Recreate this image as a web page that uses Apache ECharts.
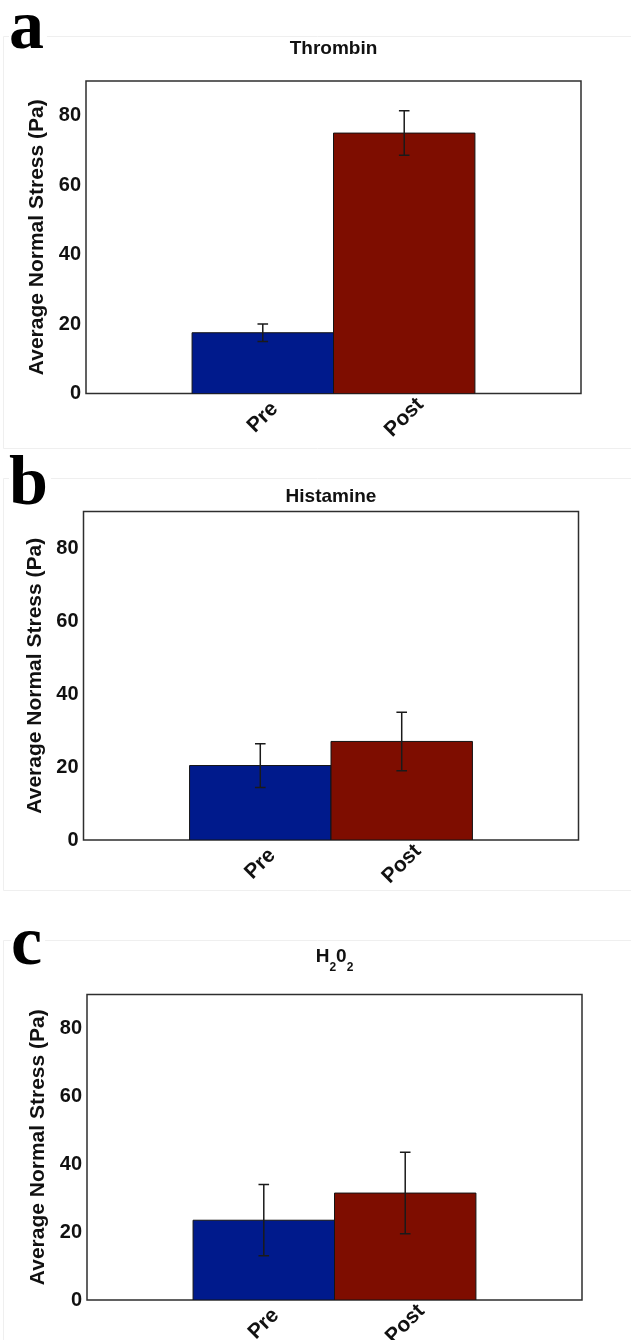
<!DOCTYPE html>
<html><head><meta charset="utf-8">
<script src="https://cdn.jsdelivr.net/npm/echarts@6/dist/echarts.min.js"></script>
<style>html,body{margin:0;padding:0;background:#fff}#chart{width:631px;height:1340px}</style>
</head><body><div id="chart"></div>
<script>
// ---- data ----
const categories = ['Pre', 'Post'];
const yTicks = [0, 20, 40, 60, 80];
const panelLetters = ['a', 'b', 'c'];
const panelTitles = ['Thrombin', 'Histamine', '{n|H}{s|2}{n|0}{s|2}'];
const thrombinMean = [17.5, 75.0];
const thrombinErr = [2.5, 6.4];
const histamineMean = [20.4, 27.0];
const histamineErr = [6.0, 8.0];
const h2o2Mean = [23.5, 31.5];
const h2o2Err = [10.5, 12.0];
const barColors = ['#001a8c', '#7e0d00'];
const yName = 'Average Normal Stress (Pa)';

// ---- layout ----
const grids = [
  {left: 86, top: 81, width: 495, height: 312.5},
  {left: 83.5, top: 511.5, width: 495, height: 328.5},
  {left: 87, top: 994.5, width: 495, height: 305.5}
];
const titleTops = [39, 487, 946];
const letterPos = [[9, 30], [9, 486], [11, 946]];
const frames = [[3, 36, 628, 412], [3, 478, 628, 412], [3, 940, 628, 420]];
const means = [thrombinMean, histamineMean, h2o2Mean];
const errs = [thrombinErr, histamineErr, h2o2Err];

const chart = echarts.init(document.getElementById('chart'), null, {renderer: 'canvas'});

function renderBar(params, api) {
  const x = api.value(0), y = api.value(1), e = api.value(2);
  const p0 = api.coord([x - 0.5, 0]);
  const p1 = api.coord([x + 0.5, y]);
  const top = api.coord([x, y + e]);
  const bot = api.coord([x, y - e]);
  const cap = 5.3;
  return {
    type: 'group',
    children: [
      {type: 'rect', shape: {x: p0[0], y: p1[1], width: p1[0] - p0[0], height: p0[1] - p1[1]},
       style: {fill: barColors[params.dataIndex], stroke: '#141414', lineWidth: 1}},
      {type: 'line', shape: {x1: top[0], y1: top[1], x2: bot[0], y2: bot[1]}, style: {stroke: '#1a1a1a', lineWidth: 1.5}},
      {type: 'line', shape: {x1: top[0] - cap, y1: top[1], x2: top[0] + cap, y2: top[1]}, style: {stroke: '#1a1a1a', lineWidth: 1.5}},
      {type: 'line', shape: {x1: bot[0] - cap, y1: bot[1], x2: bot[0] + cap, y2: bot[1]}, style: {stroke: '#1a1a1a', lineWidth: 1.5}}
    ]
  };
}

const option = {
  backgroundColor: '#ffffff',
  animation: false,
  title: panelTitles.map((t, i) => ({
    text: t,
    left: grids[i].left + grids[i].width / 2,
    textAlign: 'center',
    top: titleTops[i],
    padding: 0,
    textStyle: {
      fontFamily: 'Liberation Sans', fontWeight: 'bold', fontSize: 19, color: '#111',
      rich: {
        n: {fontFamily: 'Liberation Sans', fontWeight: 'bold', fontSize: 19, color: '#111', padding: [0, 0, 7, 0]},
        s: {fontFamily: 'Liberation Sans', fontWeight: 'bold', fontSize: 12, color: '#111', padding: [16, 0, 0, 0]}
      }
    }
  })),
  graphic: [].concat(
    frames.map(f => ({type: 'rect', silent: true, z: -10,
      shape: {x: f[0] + 0.5, y: f[1] + 0.5, width: f[2], height: f[3]},
      style: {fill: null, stroke: '#efefef', lineWidth: 1}})),
    panelLetters.map((l, i) => ({type: 'text', z: 5, x: letterPos[i][0], y: letterPos[i][1],
      style: {text: l, fill: '#000', font: 'bold 70px "Liberation Serif"', verticalAlign: 'middle',
        backgroundColor: '#fff', padding: [0, 3, 0, 0]}}))
  ),
  grid: grids.map(g => Object.assign({show: true, borderColor: '#2e2e2e', borderWidth: 1.5, backgroundColor: '#fff',
    containLabel: false, outerBoundsMode: 'none'}, g)),
  xAxis: grids.map((g, i) => ({
    type: 'value', gridIndex: i, min: -0.25, max: 3.25,
    axisLine: {show: false}, axisTick: {show: false}, splitLine: {show: false},
    axisLabel: {
      customValues: categories.map((c, k) => k + 1),
      formatter: v => categories[Math.round(v) - 1] || '',
      rotate: 45, align: 'center', verticalAlign: 'middle', margin: 24,
      fontFamily: 'Liberation Sans', fontWeight: 'bold', fontSize: 21, color: '#111'
    }
  })),
  yAxis: grids.map((g, i) => ({
    type: 'value', gridIndex: i, min: 0, max: 90, interval: 20,
    axisLine: {show: false}, axisTick: {show: false}, splitLine: {show: false},
    axisLabel: {customValues: yTicks, margin: 5, fontFamily: 'Liberation Sans', fontWeight: 'bold', fontSize: 20, color: '#111'},
    name: yName, nameLocation: 'middle', nameGap: 28, nameRotate: 90,
    nameTextStyle: {fontFamily: 'Liberation Sans', fontWeight: 'bold', fontSize: 21, color: '#111'}
  })),
  series: grids.map((g, i) => ({
    type: 'custom', xAxisIndex: i, yAxisIndex: i,
    renderItem: renderBar,
    data: categories.map((c, k) => [k + 1, means[i][k], errs[i][k]]),
    clip: true
  }))
};
chart.setOption(option);
</script></body></html>
